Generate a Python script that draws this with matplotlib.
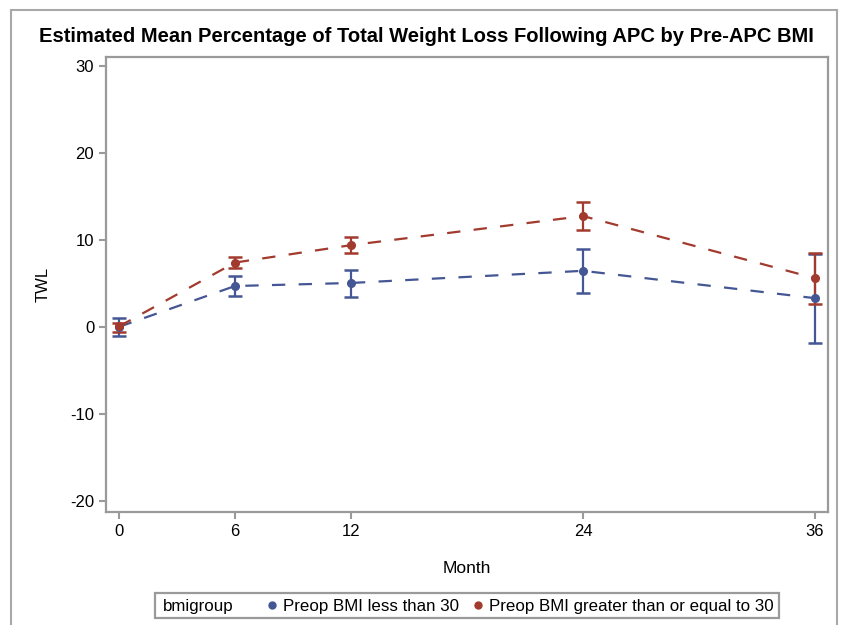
import matplotlib
matplotlib.use('Agg')
import matplotlib.pyplot as plt
from matplotlib.lines import Line2D
from matplotlib.patches import Rectangle

plt.rcParams['font.family'] = ['Liberation Sans', 'DejaVu Sans']
plt.rcParams['axes.unicode_minus'] = False

months = [0, 6, 12, 24, 36]
legend_title = 'bmigroup'
groups = ['Preop BMI less than 30', 'Preop BMI greater than or equal to 30']
colors = ['#445694', '#A23A2E']

# estimated mean TWL with lower / upper limits
low_mean = [0.0, 4.7, 5.05, 6.45, 3.3]
low_lower = [-1.1, 3.6, 3.4, 3.9, -1.8]
low_upper = [1.0, 5.8, 6.55, 8.95, 8.4]

high_mean = [0.05, 7.4, 9.4, 12.75, 5.6]
high_lower = [-0.6, 6.8, 8.45, 11.2, 2.6]
high_upper = [0.45, 8.0, 10.3, 14.35, 8.55]

gray = '#9A9A9A'
W, H = 842, 625

fig = plt.figure(figsize=(8.42, 6.25), dpi=100)
# outer frame
fig.patches.append(Rectangle((11 / W, -0.05), 826 / W, 1.05 - 10 / H,
                             transform=fig.transFigure, fill=False,
                             edgecolor='#A8A8A8', linewidth=1.5))

ax = fig.add_axes([106 / W, 1 - 512 / H, 722 / W, 455 / H])

series = [(low_mean, low_lower, low_upper), (high_mean, high_lower, high_upper)]
for (m, lo, hi), c in zip(series, colors):
    yerr = [[a - b for a, b in zip(m, lo)], [b - a for a, b in zip(m, hi)]]
    ax.plot(months, m, color=c, linewidth=1.6, linestyle=(0, (6, 6)), zorder=2)
    ax.errorbar(months, m, yerr=yerr, fmt='o', color=c, markersize=5.5,
                elinewidth=1.6, capsize=5.2, capthick=1.8, zorder=3)

ax.set_xlim(-0.67, 36.67)
ax.set_ylim(-21.3, 31.05)
ax.set_xticks(months)
ax.set_yticks([-20, -10, 0, 10, 20, 30])
ax.tick_params(colors=gray, labelcolor='black', labelsize=12, length=5, width=1.5)
for s in ax.spines.values():
    s.set_color(gray)
    s.set_linewidth(1.6)

ax.set_xlabel('Month', fontsize=12.5, labelpad=16)
ax.set_ylabel('TWL', fontsize=12, labelpad=14)
fig.text(426 / W, 1 - 37 / H,
         'Estimated Mean Percentage of Total Weight Loss Following APC by Pre-APC BMI',
         ha='center', va='center', fontsize=14.5, fontweight='bold')

# legend box with the group title on the left
fig.patches.append(Rectangle((155 / W, 1 - 618 / H), 624 / W, 25 / H,
                             transform=fig.transFigure, fill=False,
                             edgecolor=gray, linewidth=1.6))
fig.text(163 / W, 1 - 606 / H, legend_title, ha='left', va='center', fontsize=12.2)

handles = [Line2D([], [], linestyle='none', marker='o', color=c, markersize=5)
           for c in colors]
fig.legend(handles, groups, ncol=2, loc='center left',
           bbox_to_anchor=(268 / W, 1 - 606 / H), fontsize=12.2,
           frameon=False, handlelength=0.5, handletextpad=0.4,
           columnspacing=0.88, borderpad=0, borderaxespad=0)

fig.savefig('out.png', dpi=100)
